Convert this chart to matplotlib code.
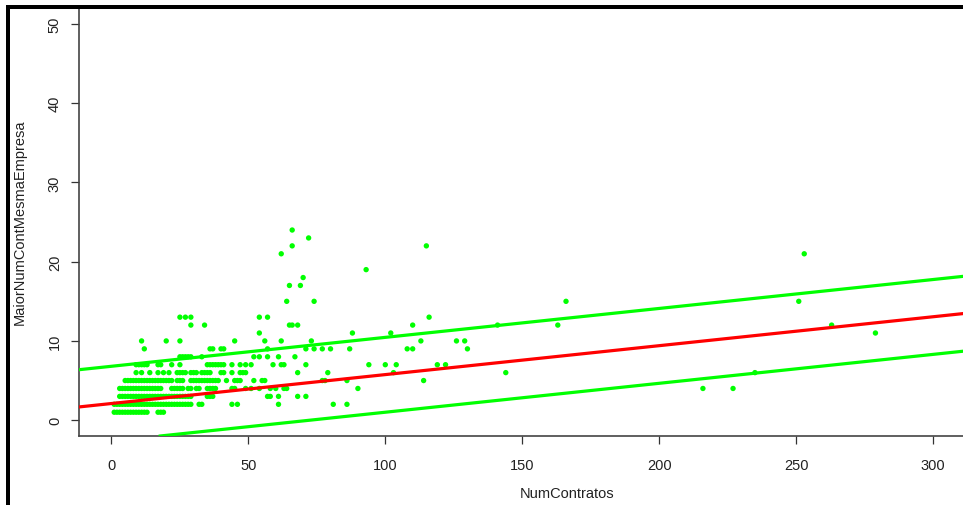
import matplotlib
matplotlib.use("Agg")
import matplotlib.pyplot as plt
from matplotlib.patches import Rectangle

# ================= DATA =================
# NumContratos values for each MaiorNumContMesmaEmpresa level
x_at_1 = [1, 2, 3, 4, 5, 6, 7, 8, 9, 10, 11, 12, 13, 17, 18, 19]
x_at_2 = [1, 2, 3, 4, 5, 6, 7, 8, 9, 10, 11, 12, 13, 14, 15, 16, 17, 18, 19, 20,
          21, 22, 23, 24, 25, 26, 27, 28, 29, 32, 33, 44, 46, 61, 81, 86]
x_at_3 = [3, 4, 5, 6, 7, 8, 9, 10, 11, 12, 13, 14, 15, 16, 17, 18, 19, 20, 21, 22,
          23, 24, 25, 26, 27, 28, 29, 35, 36, 37, 57, 58, 61, 68, 71]
x_at_4 = [3, 4, 5, 6, 7, 8, 9, 10, 11, 12, 13, 14, 15, 16, 17, 18, 22, 23, 24, 25,
          26, 28, 29, 31, 32, 35, 36, 37, 38, 44, 45, 49, 51, 54, 58, 60, 63, 64,
          90, 216, 227]
x_at_5 = [5, 6, 7, 8, 9, 10, 11, 12, 13, 14, 15, 16, 17, 18, 19, 20, 21, 22, 24,
          25, 26, 29, 30, 31, 32, 33, 34, 35, 36, 37, 38, 39, 42, 45, 46, 47, 52,
          55, 56, 77, 78, 86, 114]
x_at_6 = [9, 11, 14, 17, 19, 21, 24, 25, 26, 27, 29, 30, 31, 33, 34, 35, 36, 40,
          41, 44, 47, 48, 49, 68, 79, 103, 144, 235]
x_at_7 = [9, 10, 11, 12, 13, 17, 18, 22, 25, 35, 36, 37, 38, 39, 40, 41, 44, 47,
          49, 51, 59, 62, 63, 71, 94, 100, 104, 119, 122]
x_at_8 = [25, 26, 27, 28, 29, 33, 52, 54, 57, 61, 67]
x_at_9 = [12, 36, 37, 40, 41, 57, 71, 74, 77, 80, 87, 108, 110, 130]
x_at_10 = [11, 20, 25, 45, 56, 62, 73, 113, 126, 129]
x_at_11 = [54, 88, 102, 279]
x_at_12 = [29, 34, 65, 66, 68, 110, 141, 163, 263]
x_at_13 = [25, 27, 29, 54, 57, 116]
x_at_15 = [64, 74, 166, 251]
x_at_17 = [65, 69]
x_at_18 = [70]
x_at_19 = [93]
x_at_21 = [62, 253]
x_at_22 = [66, 115]
x_at_23 = [72]
x_at_24 = [66]

levels = [1, 2, 3, 4, 5, 6, 7, 8, 9, 10, 11, 12, 13, 15, 17, 18, 19, 21, 22, 23, 24]
groups = [x_at_1, x_at_2, x_at_3, x_at_4, x_at_5, x_at_6, x_at_7, x_at_8, x_at_9,
          x_at_10, x_at_11, x_at_12, x_at_13, x_at_15, x_at_17, x_at_18, x_at_19,
          x_at_21, x_at_22, x_at_23, x_at_24]

# regression line and band (intercept, slope)
fit_line = (2.1, 0.0365)
upper_line = (6.8, 0.0365)
lower_line = (-2.65, 0.0365)

x_ticks = [0, 50, 100, 150, 200, 250, 300]
y_ticks = [0, 10, 20, 30, 40, 50]

num_contratos = []
maior_num = []
for lvl, xs in zip(levels, groups):
    num_contratos += xs
    maior_num += [lvl] * len(xs)

# ================= PLOT =================
W, H = 963, 506
fig = plt.figure(figsize=(W / 100, H / 100), dpi=100)
plt.rcParams['font.family'] = ['Liberation Sans', 'DejaVu Sans']

# axes box: left spine at px 78.6, bottom at px 437, top at px 9.2, right just off image
ax = fig.add_axes([78.6 / W, (H - 437) / H, (965.8 - 78.6) / W, (437 - 9.2) / H])
ax.set_xlim(-12, 312)
ax.set_ylim(-2, 52)

ax.scatter(num_contratos, maior_num, s=15, color="#00ff00", edgecolors="none", zorder=3)

for (b, m), col in [(upper_line, "#00ff00"), (fit_line, "#ff0000"), (lower_line, "#00ff00")]:
    ax.axline((0, b), slope=m, color=col, lw=2.3, zorder=4)

ax.set_xticks(x_ticks)
ax.set_yticks(y_ticks)
ax.tick_params(axis="both", direction="out", length=6, width=0.9, color="#333333",
               labelsize=10.5, labelcolor="#222222")
ax.tick_params(axis="x", pad=10)
ax.tick_params(axis="y", pad=6)
for lab in ax.get_yticklabels():
    lab.set_rotation(90)
    lab.set_va("center")

for side in ["left", "bottom"]:
    ax.spines[side].set_color("#444444")
    ax.spines[side].set_linewidth(1.2)
ax.spines["top"].set_visible(False)
ax.spines["right"].set_visible(False)

fig.text(567 / W, 1 - 494 / H, "NumContratos", ha="center", va="center",
         fontsize=10.5, color="#222222")
fig.text(20 / W, 1 - 222 / H, "MaiorNumContMesmaEmpresa", ha="center", va="center",
         rotation=90, fontsize=10.5, color="#222222")

# black window frame from the screenshot (top and left edges)
fig.add_artist(Rectangle((6 / W, 0), 4 / W, 1 - 6 / H, transform=fig.transFigure,
                         color="black", lw=0))
fig.add_artist(Rectangle((6 / W, 1 - 10 / H), 1, 4 / H, transform=fig.transFigure,
                         color="black", lw=0))

fig.savefig("out.png", dpi=100)
